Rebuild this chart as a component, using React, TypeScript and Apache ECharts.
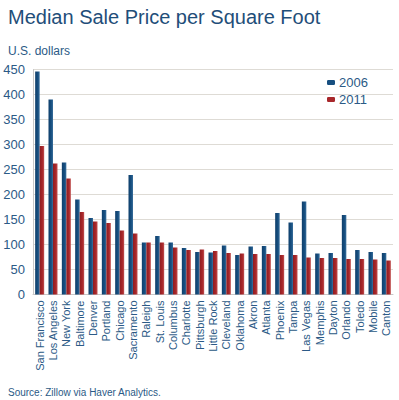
import React, { useEffect, useRef } from "react";
import * as echarts from "echarts";

const categories = [
  "San Francisco", "Los Angeles", "New York", "Baltimore", "Denver", "Portland", "Chicago",
  "Sacramento", "Raleigh", "St. Louis", "Columbus", "Charlotte", "Pittsburgh", "Little Rock",
  "Cleveland", "Oklahoma", "Akron", "Atlanta", "Phoenix", "Tampa", "Las Vegas", "Memphis",
  "Dayton", "Orlando", "Toledo", "Mobile", "Canton",
];
const values2006 = [
  446, 390, 264, 190, 153, 169, 167, 239, 104, 117, 104, 93, 85, 84, 98, 79, 96, 97, 163, 144,
  186, 82, 83, 159, 89, 85, 83,
];
const values2011 = [
  297, 262, 232, 165, 146, 143, 128, 122, 104, 104, 94, 89, 90, 87, 83, 82, 81, 81, 79, 79,
  74, 73, 73, 71, 71, 70, 68,
];
const yTicks = [0, 50, 100, 150, 200, 250, 300, 350, 400, 450];

const FONT = "'Liberation Sans', Arial, sans-serif";
const TEXT_BLUE = "#2b5a86";

export default function App() {
  const ref = useRef<HTMLDivElement>(null);
  useEffect(() => {
    if (!ref.current) return;
    const chart = echarts.init(ref.current, null, { renderer: "svg" });
    const blueGrad = new echarts.graphic.LinearGradient(0, 0, 1, 0, [
      { offset: 0, color: "#0f3f6b" },
      { offset: 0.6, color: "#174f80" },
      { offset: 1, color: "#3a6f9c" },
    ]);
    const redGrad = new echarts.graphic.LinearGradient(0, 0, 1, 0, [
      { offset: 0, color: "#8e1d20" },
      { offset: 0.6, color: "#a8272b" },
      { offset: 1, color: "#c0504f" },
    ]);
    chart.setOption({
      animation: false,
      textStyle: { fontFamily: FONT },
      title: [
        {
          text: "Median Sale Price per Square Foot",
          left: 3,
          top: 2,
          textStyle: { fontFamily: FONT, fontSize: 20, fontWeight: "normal", color: "#1f4e79" },
        },
        {
          text: "U.S. dollars",
          left: 3,
          top: 40,
          textStyle: { fontFamily: FONT, fontSize: 12, fontWeight: "normal", color: TEXT_BLUE },
        },
        {
          text: "Source: Zillow via Haver Analytics.",
          left: 3,
          top: 382,
          textStyle: { fontFamily: FONT, fontSize: 10, fontWeight: "normal", color: TEXT_BLUE },
        },
      ],
      legend: {
        orient: "vertical",
        left: 322,
        top: 71,
        itemWidth: 8,
        itemHeight: 5,
        itemGap: 4,
        textStyle: { fontFamily: FONT, fontSize: 13, color: TEXT_BLUE, padding: [0, 0, 0, -1] },
        data: [
          { name: "2006", itemStyle: { color: "#174f80" } },
          { name: "2011", itemStyle: { color: "#a8272b" } },
        ],
      },
      grid: { left: 33, right: 6, top: 69.5, bottom: 105.5 },
      xAxis: {
        type: "category",
        data: categories,
        axisLine: { show: true, lineStyle: { color: "#c8c8c8" } },
        axisTick: { show: false },
        axisLabel: {
          rotate: 90,
          interval: 0,
          margin: 6,
          fontFamily: FONT,
          fontSize: 11,
          color: TEXT_BLUE,
        },
      },
      yAxis: {
        type: "value",
        min: 0,
        max: 450,
        interval: 50,
        axisLine: { show: true, lineStyle: { color: "#c8c8c8" } },
        axisTick: { show: false },
        splitLine: { lineStyle: { color: "#dedbd5", width: 1 } },
        axisLabel: {
          margin: 8,
          fontFamily: FONT,
          fontSize: 13,
          color: TEXT_BLUE,
          customValues: yTicks,
        },
      },
      series: [
        {
          name: "2006",
          type: "bar",
          data: values2006,
          barWidth: 4.5,
          barGap: "0%",
          itemStyle: { color: blueGrad },
        },
        {
          name: "2011",
          type: "bar",
          data: values2011,
          barWidth: 4.5,
          itemStyle: { color: redGrad },
        },
      ],
    });
    return () => chart.dispose();
  }, []);
  return <div ref={ref} style={{ width: 399, height: 400, position: "absolute", left: 0, top: 0 }} />;
}
